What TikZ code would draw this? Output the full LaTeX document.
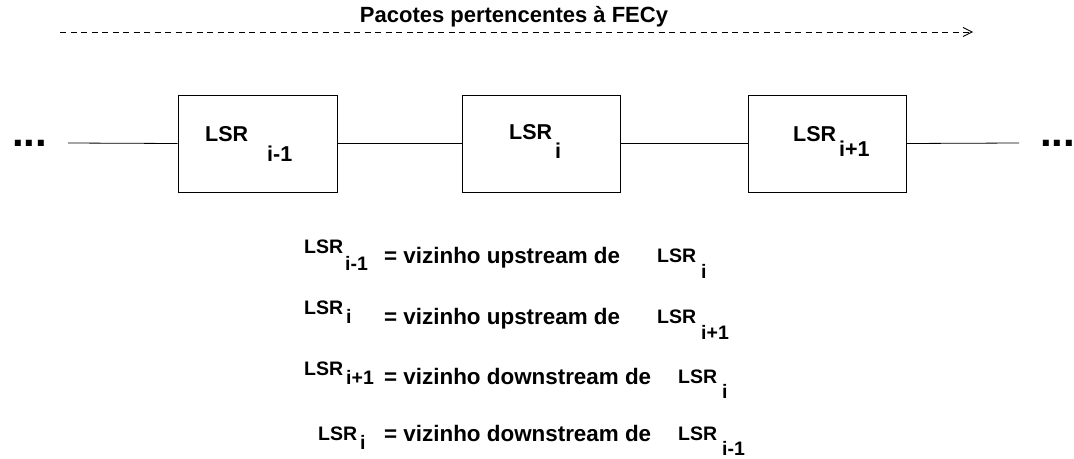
\documentclass[tikz,border=0pt]{standalone}
\usepackage{fontspec}
\setmainfont{Liberation Sans}
\usetikzlibrary{arrows.meta}
\begin{document}
\begin{tikzpicture}[x=1pt,y=-1pt,
  lsrbox/.style={draw,line width=0.8pt},
  link/.style={line width=0.8pt},
  boxtxt/.style={anchor=base west,inner sep=0pt,font=\fontsize{21.5}{21.5}\selectfont\bfseries},
  legtxt/.style={anchor=base west,inner sep=0pt,font=\fontsize{19.5}{19.5}\selectfont\bfseries},
  eqtxt/.style={anchor=base west,inner sep=0pt,font=\fontsize{22.4}{22.4}\selectfont\bfseries},
  dots/.style={anchor=base west,inner sep=0pt,font=\fontsize{42}{42}\selectfont\bfseries},
  titletxt/.style={anchor=base,inner sep=0pt,font=\fontsize{22}{22}\selectfont\bfseries}]
\useasboundingbox (0,0) rectangle (1074,458);
% title and dashed arrow
\node[titletxt] (title) at (514,22) {Pacotes pertencentes à FECy};
\coordinate (as) at (60,32);
\coordinate (ae) at (973,32);
\draw[line width=0.7pt,dash pattern=on 6pt off 4.5pt,-{Straight Barb[length=9pt,width=9pt,line width=0.8pt]}] (as) -- (ae);
% boxes
\node[lsrbox,minimum width=159pt,minimum height=97pt,inner sep=0pt] (b1) at (257.5,143.5) {};
\node[lsrbox,minimum width=158pt,minimum height=97pt,inner sep=0pt] (b2) at (541,143.5) {};
\node[lsrbox,minimum width=158pt,minimum height=97pt,inner sep=0pt] (b3) at (827,143.5) {};
\coordinate (l0) at (68,143);
\coordinate (r0) at (1019,143);
\draw[link] (l0) -- (b1.west);
\draw[link] (b1.east) -- (b2.west);
\draw[link] (b2.east) -- (b3.west);
\draw[link] (b3.east) -- (r0);
\node[dots] (dl) at (12,146) {...\kern-0.07em};
\node[dots] (dr) at (1040,146) {...\kern-0.07em};
% box labels
\node[boxtxt] (t1) at (205,141) {LSR};
\node[boxtxt] (s1) at (267,161) {i-1};
\node[boxtxt] (t2) at (509,139) {LSR};
\node[boxtxt] (s2) at (555,158) {i};
\node[boxtxt] (t3) at (793,141) {LSR};
\node[boxtxt] (s3) at (839,156) {i+1};
% legend
\node[legtxt] (a1) at (304,253) {LSR};
\node[legtxt] (a1s) at (345,270) {i-1};
\node[eqtxt] (e1) at (384,263) {= vizinho upstream de};
\node[legtxt] (c1) at (657,262) {LSR};
\node[legtxt] (c1s) at (701,278) {i};
\node[legtxt] (a2) at (304,314) {LSR};
\node[legtxt] (a2s) at (346,323) {i};
\node[eqtxt] (e2) at (384,324) {= vizinho upstream de};
\node[legtxt] (c2) at (657,323) {LSR};
\node[legtxt] (c2s) at (701,339) {i+1};
\node[legtxt] (a3) at (304,375) {LSR};
\node[legtxt] (a3s) at (346,384) {i+1};
\node[eqtxt] (e3) at (384,384) {= vizinho downstream de};
\node[legtxt] (c3) at (678,383) {LSR};
\node[legtxt] (c3s) at (722,398) {i};
\node[legtxt] (a4) at (318,440) {LSR};
\node[legtxt] (a4s) at (360,449) {i};
\node[eqtxt] (e4) at (384,441) {= vizinho downstream de};
\node[legtxt] (c4) at (678,440) {LSR};
\node[legtxt] (c4s) at (722,455) {i-1};
\end{tikzpicture}
\end{document}
